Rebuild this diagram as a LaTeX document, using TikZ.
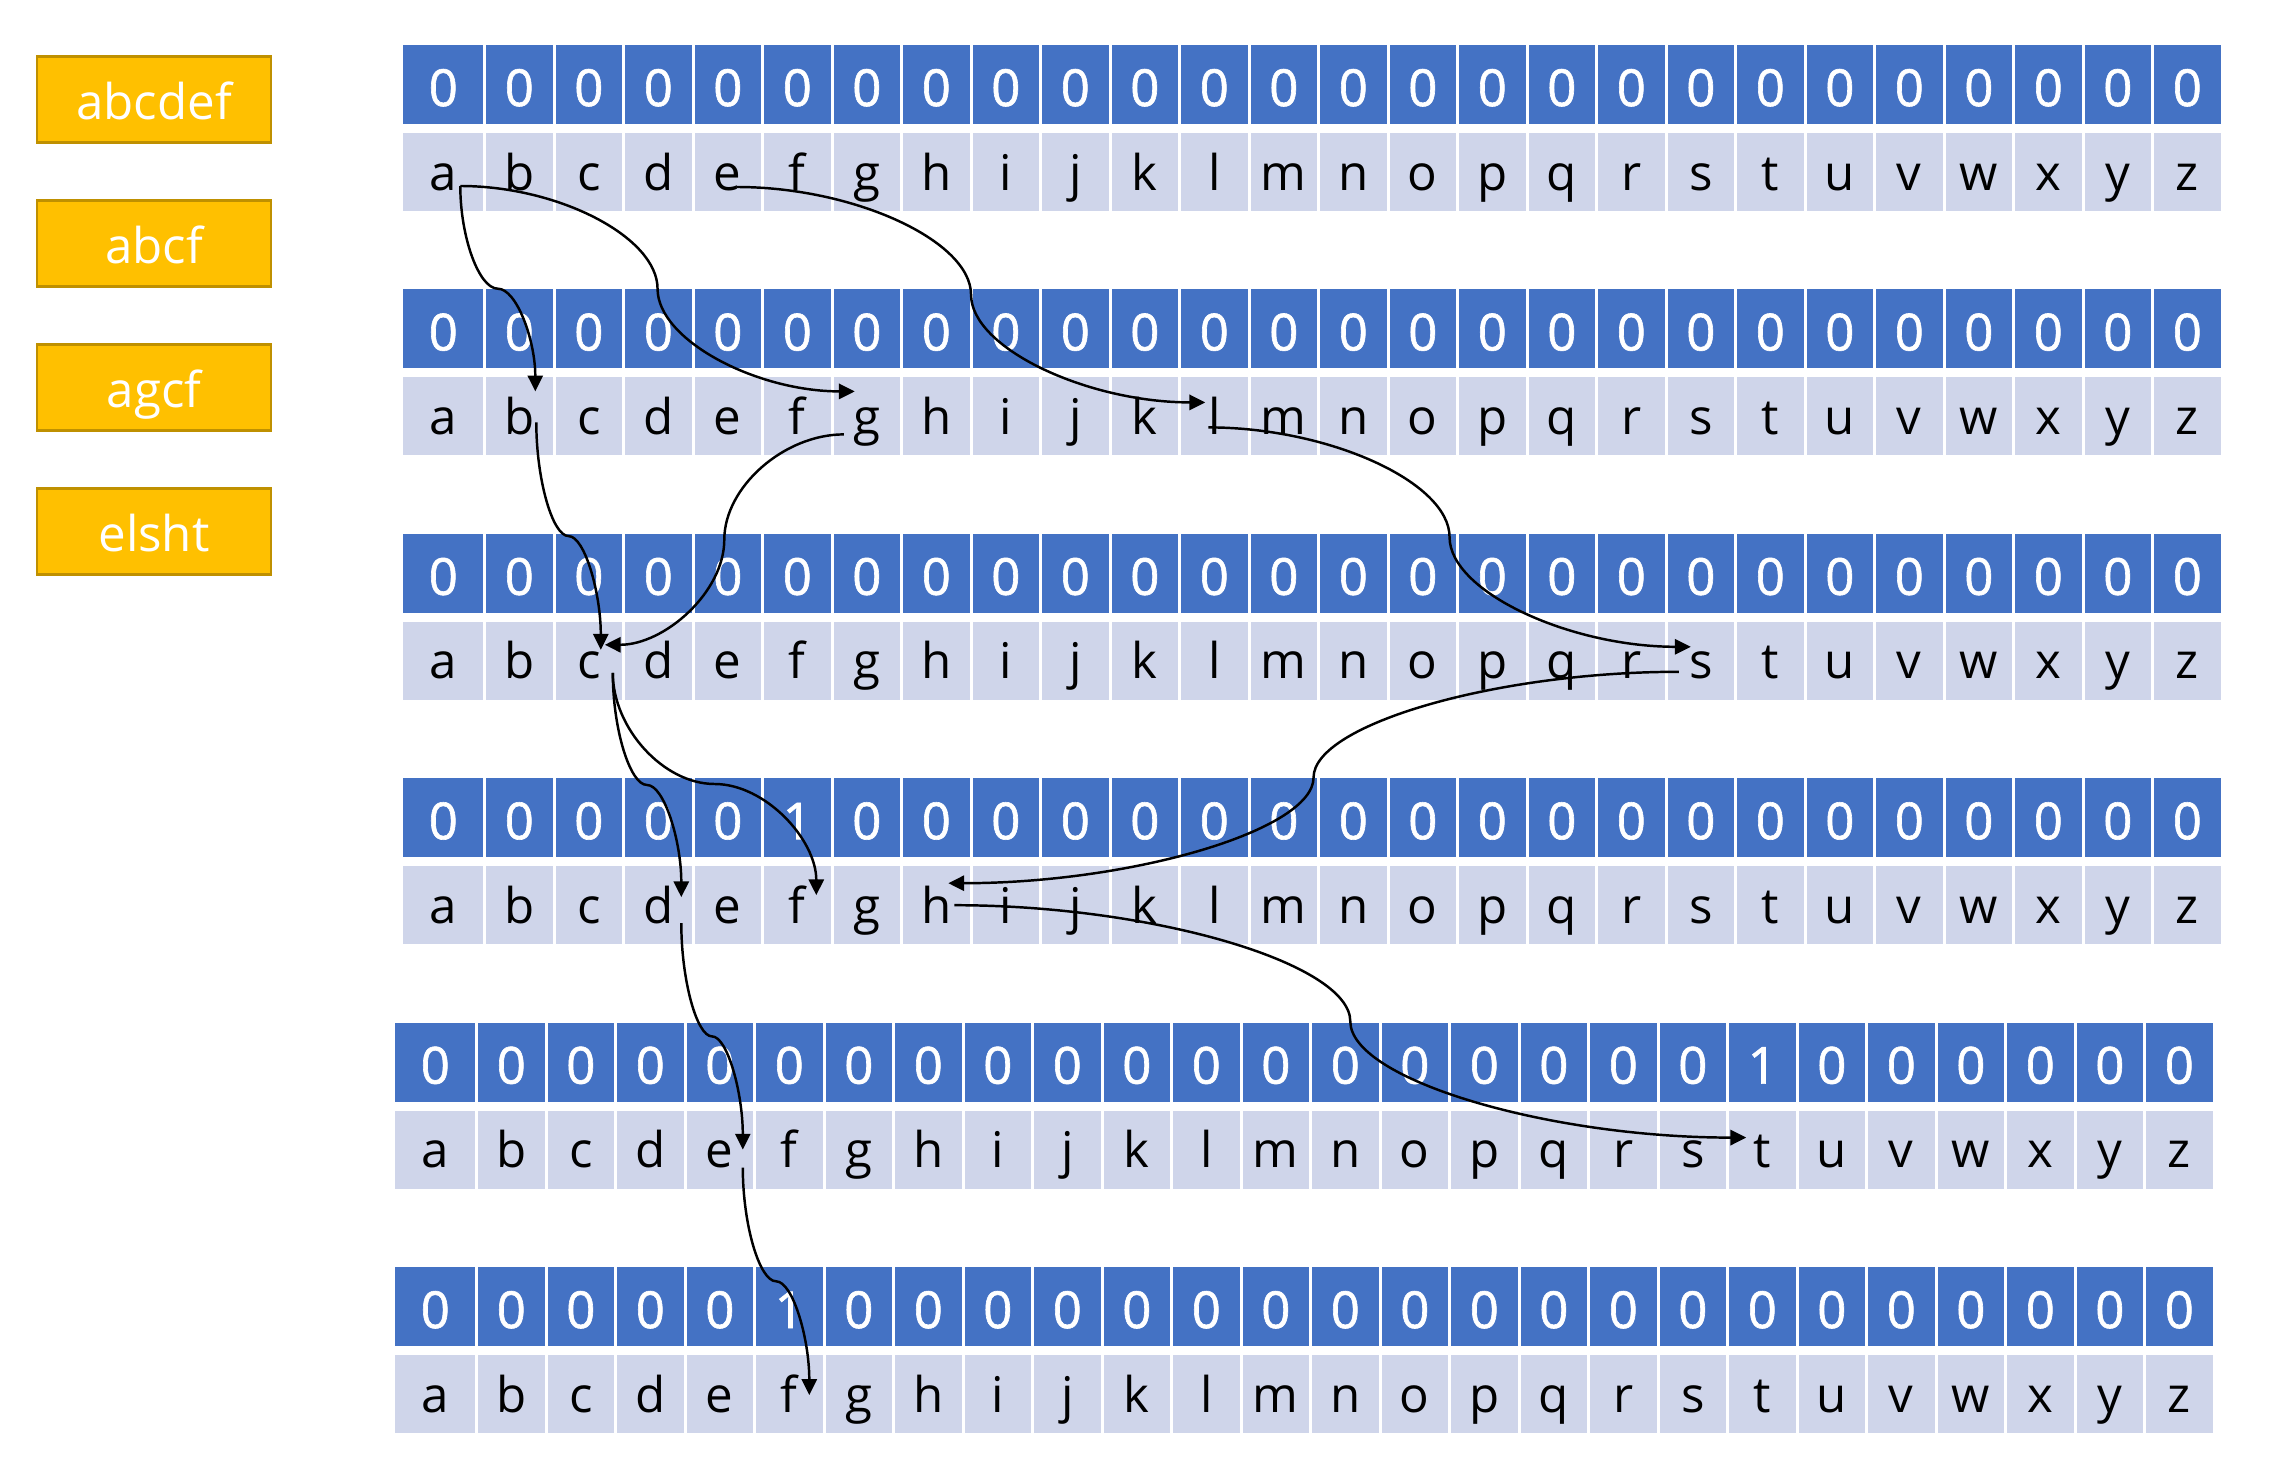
\documentclass[tikz,border=0pt]{standalone}
\usepackage{fontspec}
\setmainfont{Open Sans}
\newfontfamily\bitfont{Open Sans}[FakeBold=1.2]
\usepackage{tikz}
\usetikzlibrary{arrows.meta}
\usetikzlibrary{calc}

\definecolor{bitblue}{HTML}{4472C4}
\definecolor{chargray}{HTML}{CFD5EA}
\definecolor{wordfill}{HTML}{FFC000}
\definecolor{wordline}{HTML}{BF9000}

\begin{document}
\begin{tikzpicture}[x=0.01cm,y=-0.01cm,
        every node/.style={inner sep=0pt,font=\fontsize{14}{17}\selectfont},
        bitcell/.style={fill=bitblue,text=white,minimum height=0.79cm,
            text height=0.43cm,text depth=0pt,font=\bitfont\fontsize{14.5}{17}\selectfont},
        chrcell/.style={fill=chargray,minimum height=0.78cm,
            text height=0.36cm,text depth=0pt},
        word/.style={draw=wordline,fill=wordfill,line width=0.7pt,text=white,
            minimum width=2.34cm,minimum height=0.86cm,text height=0.386cm,text depth=0pt},
        link/.style={draw,line width=0.7pt,-{Triangle[length=4.5pt,width=4.3pt]}},
        vconn/.style={to path={let \p1=(\tikztostart),\p2=(\tikztotarget) in
            .. controls (\x1,{0.75*\y1+0.25*\y2}) and ({0.75*\x1+0.25*\x2},{0.5*\y1+0.5*\y2})
            .. ({0.5*\x1+0.5*\x2},{0.5*\y1+0.5*\y2})
            .. controls ({0.25*\x1+0.75*\x2},{0.5*\y1+0.5*\y2}) and (\x2,{0.25*\y1+0.75*\y2})
            .. (\tikztotarget)}},
        hconn/.style={to path={let \p1=(\tikztostart),\p2=(\tikztotarget) in
            .. controls ({0.75*\x1+0.25*\x2},\y1) and ({0.5*\x1+0.5*\x2},{0.75*\y1+0.25*\y2})
            .. ({0.5*\x1+0.5*\x2},{0.5*\y1+0.5*\y2})
            .. controls ({0.5*\x1+0.5*\x2},{0.25*\y1+0.75*\y2}) and ({0.25*\x1+0.75*\x2},\y2)
            .. (\tikztotarget)}},
  ]

    \useasboundingbox (0,0) rectangle (2272,1470);

    \node[word] (word1) at (154,99.7) {abcdef};
    \node[word] (word2) at (154,243.7) {abcf};
    \node[word] (word3) at (154,387.7) {agcf};
    \node[word] (word4) at (154,531.7) {elsht};

    \foreach \r/\one/\dx in {1/-1/0,2/-1/0,3/-1/0,4/5/0,5/19/-8,6/5/-8} {
        \pgfmathsetmacro{\by}{84.5+244.4*(\r-1)}
        \pgfmathsetmacro{\ly}{172+244.4*(\r-1)}
        \foreach \c [count=\i from 0] in {a,...,z} {
            \pgfmathsetmacro{\cx}{(\i==0 ? 443.3 : 519.3+(\i-1)*69.5)+\dx}
            \pgfmathsetmacro{\cw}{\i==0 ? 0.80 : 0.665}
            \pgfmathtruncatemacro{\bit}{\i==\one ? 1 : 0}
            \node[bitcell,minimum width=\cw cm] (bit\r\c) at (\cx,\by) {\bit};
            \node[chrcell,minimum width=\cw cm] (chr\r\c) at (\cx,\ly) {\c};
        }
    }

    \draw[link] ($(chr1a)+(17,14)$) to[vconn] ($(chr2b)+(16,-25)$);
    \draw[link] ($(chr1a)+(17,14)$) to[hconn] ($(chr2g)+(-12,-25)$);
    \draw[link] ($(chr1e)+(9,15)$) to[hconn] ($(chr2l)+(-9,-14)$);
    \draw[link] ($(chr2b)+(17,6)$) to[vconn] ($(chr3c)+(12,-11)$);
    \draw[link] ($(chr2g)+(-23,18)$) to[hconn] ($(chr3c)+(16,-16)$);
    \draw[link] ($(chr2l)+(-6,11)$) to[hconn] ($(chr3s)+(-10,-14)$);
    \draw[link] ($(chr3s)+(-22,11)$) to[hconn] ($(chr4h)+(12,-22)$);
    \draw[link] ($(chr3c)+(24,12)$) to[vconn] ($(chr4d)+(23,-8)$);
    \draw[link] ($(chr3c)+(24,12)$) to[vconn] ($(chr4f)+(19,-10)$);
    \draw[link] ($(chr4h)+(18,0)$) to[hconn] ($(chr5t)+(-16,-12)$);
    \draw[link] ($(chr4d)+(23,18)$) to[vconn] ($(chr5e)+(23,0)$);
    \draw[link] ($(chr5e)+(23,18)$) to[vconn] ($(chr6f)+(20,1)$);
\end{tikzpicture}
\end{document}
